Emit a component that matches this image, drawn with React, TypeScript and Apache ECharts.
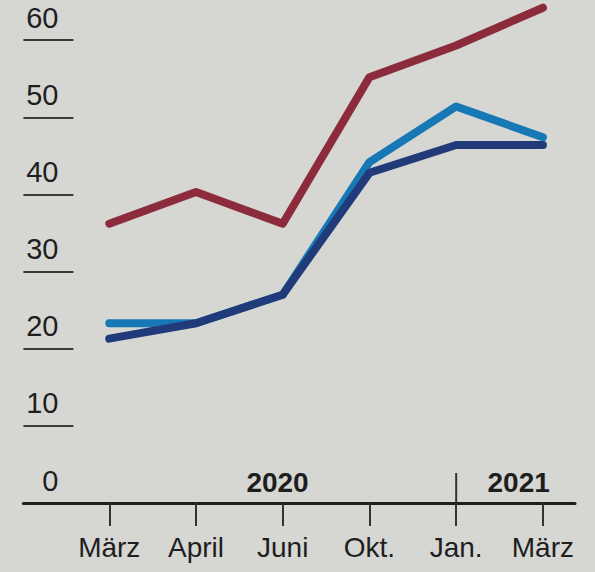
import React, { useEffect, useRef } from "react";
import * as echarts from "echarts";

const categories = ["März", "April", "Juni", "Okt.", "Jan.", "März"];
const redSeries = [36.2, 40.3, 36.2, 55.2, 59.3, 64.2];
const lightBlueSeries = [23.3, 23.3, 27.0, 44.2, 51.4, 47.4];
const navySeries = [21.3, 23.3, 27.0, 42.8, 46.4, 46.4];
const yTickValues = [0, 10, 20, 30, 40, 50, 60];
const yLineValues = [10, 20, 30, 40, 50, 60];
const yearLabels = ["2020", "2021"];
const yearCenters = [1.94, 4.72];
const yearDividerAt = 4;

const FONT = "'Liberation Sans', Arial, sans-serif";

export default function App() {
  const ref = useRef<HTMLDivElement>(null);
  useEffect(() => {
    document.body.style.margin = "0";
    const el = ref.current!;
    const chart = echarts.init(el, null, { renderer: "svg" });
    const xs = categories.map((_, i) => i);
    const mk = (vals: number[], color: string, z: number) => ({
      type: "line",
      data: vals.map((v, i) => [xs[i], v]),
      symbol: "none",
      z,
      lineStyle: { color, width: 8, cap: "round", join: "round" },
    });
    chart.setOption({
      animation: false,
      backgroundColor: "#d6d6d3",
      grid: { left: 23.4, right: 20, top: 0, bottom: 69 },
      xAxis: {
        type: "value",
        min: -0.99,
        max: 5.37,
        axisLine: { show: true, onZero: false, lineStyle: { color: "#1f1f1f", width: 3 } },
        axisTick: {
          show: true,
          customValues: xs,
          length: 23,
          lineStyle: { color: "#333", width: 2 },
        },
        axisLabel: {
          show: true,
          customValues: xs,
          margin: 30,
          formatter: (v: number) => categories[Math.round(v)] ?? "",
          color: "#1e1e1e",
          fontSize: 28,
          fontFamily: FONT,
        },
        splitLine: { show: false },
      },
      yAxis: {
        type: "value",
        min: 0,
        max: 65.2,
        axisLine: { show: false, onZero: false },
        axisTick: {
          show: true,
          inside: true,
          length: 50,
          customValues: yLineValues,
          lineStyle: { color: "#3a3a3a", width: 2 },
        },
        axisLabel: {
          show: true,
          customValues: yTickValues,
          margin: -35,
          verticalAlign: "bottom",
          padding: [0, 0, 8, 0],
          color: "#1e1e1e",
          fontSize: 29,
          fontFamily: FONT,
        },
        splitLine: { show: false },
      },
      series: [
        mk(redSeries, "#8c2b3b", 2),
        mk(lightBlueSeries, "#1679b6", 3),
        mk(navySeries, "#213a7a", 4),
      ],
    });
    const graphics: any[] = [];
    yearLabels.forEach((t, i) => {
      const p = chart.convertToPixel({ gridIndex: 0 }, [yearCenters[i], 0]);
      graphics.push({
        type: "text",
        x: p[0],
        y: p[1] - 7,
        style: {
          text: t,
          fill: "#1e1e1e",
          font: `bold 28px ${FONT}`,
          textAlign: "center",
          textVerticalAlign: "bottom",
        },
      });
    });
    const d = chart.convertToPixel({ gridIndex: 0 }, [yearDividerAt, 0]);
    graphics.push({
      type: "line",
      shape: { x1: d[0], y1: d[1] - 30, x2: d[0], y2: d[1] },
      style: { stroke: "#333", lineWidth: 2 },
    });
    chart.setOption({ graphic: graphics });
    return () => chart.dispose();
  }, []);
  return <div ref={ref} style={{ width: 595, height: 572 }} />;
}
